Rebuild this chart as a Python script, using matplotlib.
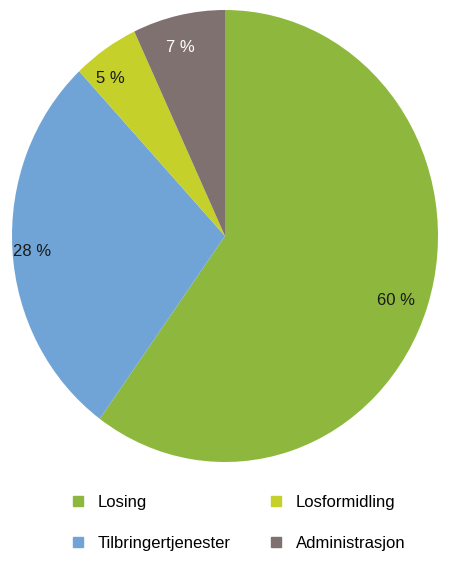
import numpy as np
import matplotlib.pyplot as plt
from matplotlib.lines import Line2D

plt.rcParams['font.family'] = ['Liberation Sans', 'DejaVu Sans']

# donnees
kategorier = ['Losing', 'Tilbringertjenester', 'Losformidling', 'Administrasjon']
andel = [60, 28, 5, 7]
farger = ['#8db83d', '#71a4d6', '#c5d02a', '#7f7170']
tekstfarge = ['#1a1a1a', '#1a1a1a', '#1a1a1a', 'white']
# position des etiquettes (rayon, petit decalage d'angle en degres)
etikett_r = [0.85, 0.91, 0.88, 0.86]
etikett_dv = [-1.5, 0.6, 3.4, 1.6]

fig = plt.figure(figsize=(4.5, 5.65), dpi=100)
# le camembert est un peu etire en hauteur dans l'original
ax = fig.add_axes([12/450, 103/565, 426/450, 452/565])

wedges, _ = ax.pie(andel, colors=farger, startangle=90, counterclock=False,
                   wedgeprops=dict(linewidth=0))

# etiketter i prosent
for w, v, c, r, dv in zip(wedges, andel, tekstfarge, etikett_r, etikett_dv):
    a = np.deg2rad((w.theta1 + w.theta2) / 2 + dv)
    ax.text(r * np.cos(a), r * np.sin(a), f'{v} %', ha='center', va='center',
            fontsize=12, color=c)
ax.set_xlim(-1, 1)
ax.set_ylim(-1, 1)
ax.set_aspect('auto')

handles = [Line2D([], [], marker='s', linestyle='', markersize=7.5,
                  markerfacecolor=f, markeredgecolor=f) for f in farger]
fig.legend(handles, kategorier, ncol=2, loc='upper left',
           bbox_to_anchor=(56/450, 1 - 480/565), frameon=False, fontsize=12,
           handlelength=0.8, handletextpad=0.8, columnspacing=2.3,
           labelspacing=1.55)

plt.savefig('out.png', dpi=100)
